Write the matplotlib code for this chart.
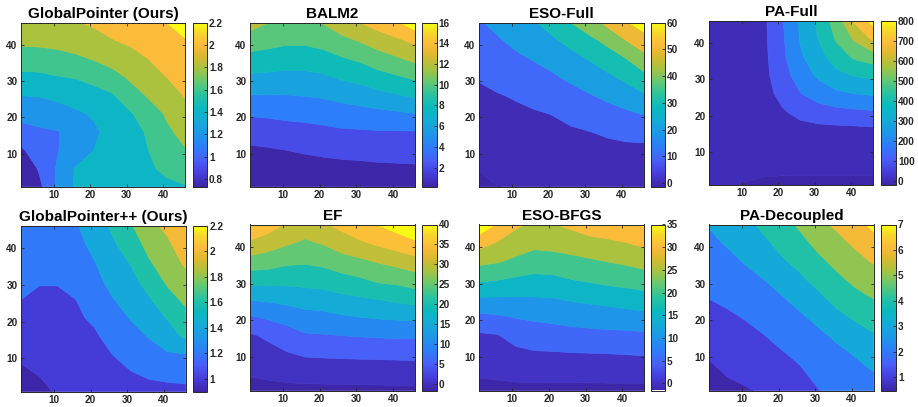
import numpy as np
import matplotlib
matplotlib.use("Agg")
import matplotlib.pyplot as plt
from matplotlib.colors import LinearSegmentedColormap, Normalize
from matplotlib.cm import ScalarMappable

plt.rcParams['font.family'] = ['Liberation Sans', 'DejaVu Sans']
plt.rcParams['font.weight'] = 'bold'

# sample grid (both axes)
grid = [1, 6, 11, 16, 21, 26, 31, 36, 41, 46]

# surfaces: one row per y value (bottom to top), one column per x value
global_pointer = [
    [0.73, 0.95, 1.24, 1.43, 1.46, 1.49, 1.52, 1.55, 1.57, 1.59],
    [0.85, 1.02, 1.22, 1.41, 1.45, 1.49, 1.53, 1.58, 1.63, 1.68],
    [0.97, 1.10, 1.19, 1.30, 1.40, 1.47, 1.54, 1.60, 1.70, 1.79],
    [1.13, 1.17, 1.19, 1.27, 1.37, 1.46, 1.54, 1.62, 1.77, 1.85],
    [1.26, 1.28, 1.32, 1.37, 1.42, 1.51, 1.58, 1.71, 1.82, 1.94],
    [1.40, 1.41, 1.44, 1.48, 1.54, 1.58, 1.71, 1.82, 1.91, 2.01],
    [1.55, 1.56, 1.59, 1.61, 1.65, 1.72, 1.83, 1.91, 2.00, 2.07],
    [1.70, 1.70, 1.72, 1.76, 1.81, 1.88, 1.93, 2.00, 2.06, 2.14],
    [1.84, 1.85, 1.87, 1.90, 1.92, 1.99, 2.03, 2.09, 2.15, 2.19],
    [1.93, 1.94, 1.96, 1.99, 2.03, 2.07, 2.11, 2.15, 2.20, 2.26],
]
balm2 = [
    [0.15, 0.30, 0.42, 0.52, 0.60, 0.66, 0.71, 0.75, 0.78, 0.80],
    [0.91, 1.06, 1.21, 1.32, 1.42, 1.50, 1.56, 1.64, 1.69, 1.74],
    [1.68, 1.82, 2.00, 2.18, 2.35, 2.49, 2.58, 2.70, 2.74, 2.78],
    [2.79, 2.97, 3.20, 3.33, 3.51, 3.71, 3.78, 3.86, 3.87, 3.87],
    [4.21, 4.32, 4.49, 4.61, 4.82, 5.09, 5.28, 5.49, 5.69, 5.96],
    [5.93, 5.94, 5.94, 6.06, 6.23, 6.60, 6.93, 7.40, 7.83, 8.31],
    [7.63, 7.52, 7.41, 7.48, 7.68, 8.25, 8.62, 9.27, 9.74, 10.30],
    [9.34, 9.15, 8.88, 8.91, 9.23, 9.78, 10.29, 11.07, 11.72, 12.41],
    [11.00, 10.65, 10.35, 10.35, 10.70, 11.46, 12.10, 12.92, 13.62, 14.38],
    [12.80, 12.00, 11.30, 11.40, 12.10, 13.10, 14.00, 14.85, 15.67, 17.10],
]
eso_full = [
    [-1.4, -0.08, 0.3, 0.7, 1.0, 1.3, 1.6, 1.9, 2.1, 2.2],
    [0.16, 1.75, 2.3, 2.8, 3.3, 3.8, 4.3, 4.8, 5.1, 5.2],
    [2.2, 3.7, 4.3, 4.9, 5.6, 6.3, 7.1, 7.7, 8.1, 7.8],
    [4.3, 5.6, 6.3, 7.0, 7.9, 8.8, 9.8, 11.1, 12.2, 13.2],
    [6.3, 7.6, 8.4, 9.2, 10.2, 12.4, 14.5, 16.5, 18.3, 20.5],
    [8.4, 9.5, 10.7, 12.4, 14.5, 16.9, 19.3, 22.0, 24.9, 29.0],
    [10.6, 12.5, 14.5, 16.5, 18.8, 21.6, 24.8, 28.1, 32.0, 37.1],
    [13.4, 15.7, 18.3, 20.5, 22.8, 26.7, 30.4, 34.8, 39.5, 46.7],
    [16.3, 18.9, 22.0, 24.8, 28.5, 32.6, 37.4, 42.3, 49.6, 55.5],
    [19.1, 22.4, 25.5, 29.3, 33.5, 40.0, 45.1, 52.5, 58.6, 64.5],
]
pa_full = [
    [6, 4, -2, -10, -12, -13, -14, -15, -17, -20],
    [6, 8, 10, 12, 12, 12, 13, 14, 15, 18],
    [10, 14, 22, 28, 32, 35, 38, 40, 42, 45],
    [12, 18, 28, 40, 55, 65, 70, 72, 75, 80],
    [14, 22, 32, 52, 88, 128, 155, 172, 180, 190],
    [16, 25, 36, 62, 128, 196, 245, 282, 300, 312],
    [17, 27, 40, 70, 160, 241, 316, 372, 406, 420],
    [18, 28, 42, 75, 175, 286, 360, 450, 514, 550],
    [19, 29, 44, 78, 182, 305, 402, 512, 613, 715],
    [20, 30, 45, 80, 190, 312, 420, 550, 715, 835],
]
global_pointer_pp = [
    [0.90, 0.95, 1.02, 1.05, 1.08, 1.11, 1.13, 1.14, 1.15, 1.15],
    [0.97, 1.01, 1.05, 1.08, 1.11, 1.15, 1.19, 1.23, 1.25, 1.27],
    [1.03, 1.05, 1.08, 1.11, 1.14, 1.20, 1.27, 1.32, 1.38, 1.39],
    [1.09, 1.09, 1.11, 1.14, 1.17, 1.27, 1.34, 1.41, 1.50, 1.64],
    [1.14, 1.13, 1.14, 1.17, 1.23, 1.33, 1.41, 1.50, 1.61, 1.74],
    [1.20, 1.17, 1.17, 1.20, 1.28, 1.39, 1.48, 1.58, 1.73, 1.84],
    [1.24, 1.21, 1.21, 1.25, 1.34, 1.46, 1.54, 1.68, 1.83, 1.94],
    [1.27, 1.25, 1.26, 1.30, 1.39, 1.51, 1.61, 1.78, 1.90, 2.03],
    [1.29, 1.28, 1.30, 1.34, 1.45, 1.57, 1.70, 1.86, 1.97, 2.10],
    [1.31, 1.31, 1.34, 1.38, 1.50, 1.63, 1.78, 1.95, 2.04, 2.17],
]
ef = [
    [-1.7, -1.3, -1.2, -1.1, -1.1, -1.0, -1.0, -1.0, -0.9, -0.9],
    [0.54, 1.05, 1.54, 1.94, 2.03, 2.1, 2.2, 2.3, 2.4, 2.5],
    [2.48, 3.25, 4.63, 5.69, 5.92, 6.1, 6.2, 6.3, 6.4, 6.5],
    [4.42, 5.96, 7.93, 9.54, 9.77, 10.1, 10.4, 10.6, 10.9, 10.7],
    [9.6, 10.8, 11.9, 13.2, 13.7, 14.5, 15.1, 15.6, 15.9, 16.2],
    [15.7, 16.0, 16.8, 17.6, 17.9, 18.8, 19.6, 20.3, 21.2, 22.2],
    [21.9, 21.9, 21.5, 21.7, 22.2, 23.3, 24.3, 25.9, 26.4, 27.6],
    [28.0, 27.3, 26.0, 25.6, 26.3, 27.9, 29.0, 30.4, 31.6, 33.2],
    [34.3, 32.4, 30.6, 29.2, 30.4, 32.6, 34.3, 35.9, 37.6, 39.1],
    [39.0, 37.4, 34.5, 32.8, 34.3, 36.4, 38.5, 40.2, 42.0, 44.8],
]
eso_bfgs = [
    [-1.6, -1.4, -1.2, -1.2, -1.2, -1.2, -1.2, -1.2, -1.2, -1.2],
    [0.76, 1.05, 1.4, 1.6, 1.6, 1.6, 1.7, 1.8, 1.8, 1.9],
    [2.57, 2.93, 3.8, 4.5, 4.6, 4.8, 4.9, 5.0, 5.2, 5.4],
    [4.38, 4.81, 6.8, 7.6, 7.9, 8.3, 8.6, 8.9, 8.9, 9.1],
    [8.84, 9.5, 10.3, 10.8, 11.3, 11.9, 12.3, 12.5, 13.0, 13.7],
    [14.65, 14.6, 14.6, 14.7, 14.9, 15.6, 16.2, 16.9, 17.5, 18.0],
    [20.7, 20.1, 19.2, 18.7, 18.9, 19.9, 20.6, 21.4, 21.9, 22.8],
    [26.2, 25.4, 24.0, 22.6, 22.9, 23.6, 24.3, 25.1, 25.8, 26.7],
    [31.95, 29.6, 27.6, 26.4, 26.7, 27.4, 28.4, 29.1, 29.9, 31.1],
    [38.0, 34.5, 30.8, 29.2, 29.7, 31.0, 32.6, 33.1, 34.0, 35.5],
]
pa_decoupled = [
    [0.47, 0.78, 0.93, 1.10, 1.42, 1.69, 1.98, 2.25, 2.50, 2.60],
    [0.80, 1.08, 1.22, 1.40, 1.68, 1.90, 2.27, 2.52, 2.77, 3.00],
    [1.11, 1.35, 1.49, 1.69, 1.94, 2.19, 2.56, 2.80, 3.06, 3.46],
    [1.41, 1.61, 1.77, 1.99, 2.26, 2.54, 2.84, 3.16, 3.60, 3.93],
    [1.71, 1.87, 2.06, 2.32, 2.59, 2.88, 3.25, 3.77, 4.14, 4.47],
    [2.01, 2.17, 2.39, 2.66, 2.93, 3.33, 3.80, 4.30, 4.71, 5.02],
    [2.27, 2.47, 2.73, 2.99, 3.39, 3.83, 4.30, 4.79, 5.22, 5.55],
    [2.54, 2.77, 3.07, 3.41, 3.89, 4.29, 4.80, 5.26, 5.68, 6.09],
    [2.80, 3.08, 3.41, 3.82, 4.30, 4.73, 5.28, 5.71, 6.17, 6.63],
    [3.06, 3.50, 3.76, 4.22, 4.69, 5.17, 5.75, 6.18, 6.76, 7.24],
]

titles = ["GlobalPointer (Ours)", "BALM2", "ESO-Full", "PA-Full",
          "GlobalPointer++ (Ours)", "EF", "ESO-BFGS", "PA-Decoupled"]
surfaces = [global_pointer, balm2, eso_full, pa_full,
            global_pointer_pp, ef, eso_bfgs, pa_decoupled]
contour_levels = [
    [1.0, 1.2, 1.4, 1.6, 1.8, 2.0, 2.2],
    [2, 4, 6, 8, 10, 12, 14, 16],
    [0, 10, 20, 30, 40, 50, 60],
    [0, 100, 200, 300, 400, 500, 600, 700, 800],
    [1.0, 1.2, 1.4, 1.6, 1.8, 2.0, 2.2],
    [0, 5, 10, 15, 20, 25, 30, 35, 40],
    [0, 5, 10, 15, 20, 25, 30, 35],
    [1, 2, 3, 4, 5, 6, 7],
]
color_limits = [(0.73, 2.2), (0.15, 16), (-1.4, 60), (-20, 800),
                (0.9, 2.2), (-1.7, 40), (-1.6, 35), (0.47, 7)]
colorbar_ticks = [
    [0.8, 1.0, 1.2, 1.4, 1.6, 1.8, 2.0, 2.2],
    [2, 4, 6, 8, 10, 12, 14, 16],
    [0, 10, 20, 30, 40, 50, 60],
    [0, 100, 200, 300, 400, 500, 600, 700, 800],
    [1.0, 1.2, 1.4, 1.6, 1.8, 2.0, 2.2],
    [0, 5, 10, 15, 20, 25, 30, 35, 40],
    [0, 5, 10, 15, 20, 25, 30, 35],
    [1, 2, 3, 4, 5, 6, 7],
]
axis_ticks = [10, 20, 30, 40]

# parula-like colormap
parula_anchors = [
    (0.00, (62, 38, 168)),
    (0.08, (70, 62, 220)),
    (0.16, (72, 95, 248)),
    (0.24, (45, 125, 250)),
    (0.32, (30, 150, 232)),
    (0.40, (20, 172, 215)),
    (0.48, (10, 185, 190)),
    (0.56, (40, 195, 160)),
    (0.64, (100, 200, 115)),
    (0.72, (165, 195, 65)),
    (0.80, (220, 185, 45)),
    (0.87, (253, 187, 60)),
    (0.94, (245, 215, 40)),
    (1.00, (249, 251, 21)),
]
parula = LinearSegmentedColormap.from_list(
    "parula", [(p, tuple(c / 255 for c in rgb)) for p, rgb in parula_anchors], N=256)

W, H = 918, 407
fig = plt.figure(figsize=(W / 100, H / 100), dpi=100)

# pixel boxes: (ax_left, ax_right, top, bottom, cb_left, cb_right)
boxes = [
    (21, 185, 22.7, 186.7, 193, 207),
    (250, 415, 22.7, 186.7, 421.7, 436.7),
    (479, 644, 22.7, 186.7, 650.7, 664.5),
    (709, 873, 20.7, 185.0, 880.7, 896),
    (21, 185.7, 226, 391.5, 192.7, 207.3),
    (250, 415, 224.5, 390.5, 422, 437),
    (479.3, 644.3, 224.5, 390.5, 651.3, 665),
    (709, 873.7, 224.5, 390.5, 881, 896),
]

text_color = '#262626'
X, Y = np.meshgrid(grid, grid)

for k in range(8):
    axl, axr, top, bot, cbl, cbr = boxes[k]
    ax = fig.add_axes([axl / W, 1 - bot / H, (axr - axl) / W, (bot - top) / H])
    cax = fig.add_axes([cbl / W, 1 - bot / H, (cbr - cbl) / W, (bot - top) / H])

    Z = np.array(surfaces[k], dtype=float)
    levels = contour_levels[k]
    vmin, vmax = color_limits[k]
    norm = Normalize(vmin, vmax)
    lo = min(Z.min(), vmin) - 1
    hi = max(Z.max(), levels[-1]) + 1
    bounds = [lo] + list(levels) + [hi]
    # each band takes the colour of its lower bound
    starts = [vmin] + list(levels)
    colors = [parula(float(np.clip(norm(s), 0, 1))) for s in starts]

    cs = ax.contourf(X, Y, Z, levels=bounds, colors=colors, antialiased=True)
    cs.set_edgecolor('face')
    cs.set_linewidth(0.5)

    ax.set_xlim(1, 46)
    ax.set_ylim(1, 46)
    ax.set_xticks(axis_ticks)
    ax.set_yticks(axis_ticks)
    ax.tick_params(direction='in', length=2.5, width=0.6, top=True, right=True,
                   labelsize=7.2, colors=text_color, pad=2.5)
    for lab in ax.get_xticklabels() + ax.get_yticklabels():
        lab.set_fontweight('bold')
    for sp in ax.spines.values():
        sp.set_color(text_color)
        sp.set_linewidth(0.7)
    ax.set_title(titles[k], fontsize=11, fontweight='bold', color='black', pad=3.5)

    sm = ScalarMappable(norm=norm, cmap=parula)
    cb = fig.colorbar(sm, cax=cax, ticks=colorbar_ticks[k])
    cb.ax.set_yticklabels(['%g' % t for t in colorbar_ticks[k]])
    cb.ax.tick_params(direction='in', length=2.5, width=0.6, labelsize=7.2,
                      colors=text_color, pad=1.5)
    for lab in cb.ax.get_yticklabels():
        lab.set_fontweight('bold')
    cb.outline.set_edgecolor(text_color)
    cb.outline.set_linewidth(0.7)

fig.savefig("out.png", dpi=100)
